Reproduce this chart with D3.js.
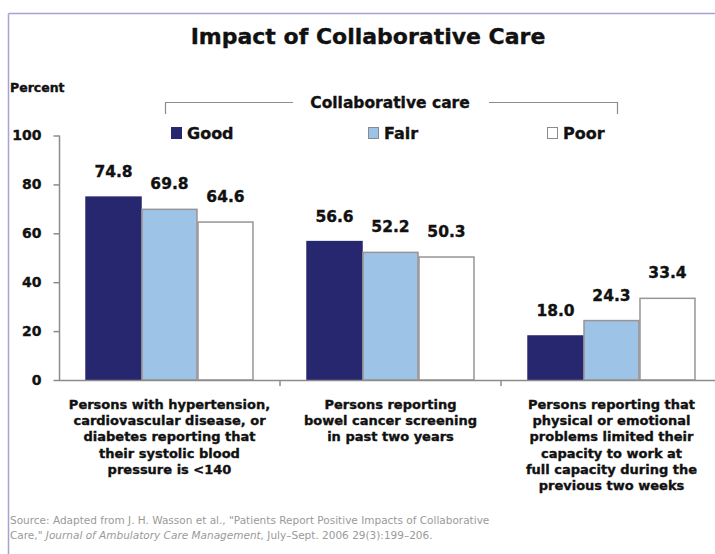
<!DOCTYPE html>
<html>
<head>
<meta charset="utf-8">
<script src="https://cdn.jsdelivr.net/npm/d3@7"></script>
<style>
  body { margin: 0; background: #fff; }
  svg text { font-family: "DejaVu Sans", sans-serif; }
  .heavy { font-weight: bold; stroke: #111; stroke-width: 0.35px; fill: #111; }
</style>
</head>
<body>
<svg id="chart"></svg>
<script>
const categories = [
	['Persons with hypertension,', 'cardiovascular disease, or', 'diabetes reporting that', 'their systolic blood', 'pressure is <140'],
	['Persons reporting', 'bowel cancer screening', 'in past two years'],
	['Persons reporting that', 'physical or emotional', 'problems limited their', 'capacity to work at', 'full capacity during the', 'previous two weeks']
];
const seriesNames = ['Good', 'Fair', 'Poor'];
const good = [74.8, 56.6, 18.0];
const fair = [69.8, 52.2, 24.3];
const poor = [64.6, 50.3, 33.4];
const yTicks = [0, 20, 40, 60, 80, 100];

const width = 715, height = 554;
const colors = { Good: '#27276f', Fair: '#9dc3e6', Poor: '#ffffff' };
const strokes = { Good: '#27276f', Fair: '#9a9494', Poor: '#9a9494' };

const svg = d3.select('#chart').attr('width', width).attr('height', height);

// frame lines
svg.append('line').attr('x1', 8.5).attr('y1', 13.5).attr('x2', width).attr('y2', 13.5)
	.attr('stroke', '#a3a3d6').attr('stroke-width', 1.5);
svg.append('line').attr('x1', 8.5).attr('y1', 13.5).attr('x2', 8.5).attr('y2', height)
	.attr('stroke', '#a3a3d6').attr('stroke-width', 1.5);

svg.append('text').attr('class', 'heavy')
	.attr('x', 368).attr('y', 44).attr('text-anchor', 'middle')
	.attr('font-size', 22).attr('stroke-width', 0.5).text('Impact of Collaborative Care');

svg.append('text').attr('class', 'heavy')
	.attr('x', 10).attr('y', 92).attr('font-size', 12.5).text('Percent');

const catIdx = d3.range(categories.length);
const x0 = d3.scaleBand().domain(catIdx).range([59, 722]).paddingInner(0.24).paddingOuter(0.12);
const x1 = d3.scaleBand().domain(seriesNames).range([0, x0.bandwidth()]);
const y = d3.scaleLinear().domain([0, 100]).range([380, 135.5]);

// y axis
const yAxis = svg.append('g').attr('transform', 'translate(59.5,0)')
	.call(d3.axisLeft(y).tickValues(yTicks).tickSize(6).tickPadding(12));
yAxis.select('.domain').attr('stroke', '#8c8c8c').attr('stroke-width', 1.5).attr('d', `M0,${y(100)}V${y(0)}`);
yAxis.selectAll('.tick line').attr('stroke', '#8c8c8c').attr('stroke-width', 1.5);
yAxis.selectAll('.tick text').attr('class', 'heavy').attr('font-size', 14).attr('font-family', 'DejaVu Sans');

// bars
const seriesData = { Good: good, Fair: fair, Poor: poor };
const groups = svg.append('g').selectAll('g').data(catIdx).join('g')
	.attr('transform', i => `translate(${x0(i)},0)`);
groups.selectAll('rect')
	.data(i => seriesNames.map(s => ({ s, v: seriesData[s][i] })))
	.join('rect')
	.attr('x', d => x1(d.s) + 0.5).attr('width', x1.bandwidth() - 1)
	.attr('y', d => y(d.v)).attr('height', d => y(0) - y(d.v))
	.attr('fill', d => colors[d.s]).attr('stroke', d => strokes[d.s]).attr('stroke-width', 1.5);
groups.selectAll('text.val')
	.data(i => seriesNames.map(s => ({ s, v: seriesData[s][i] })))
	.join('text').attr('class', 'val heavy')
	.attr('x', d => x1(d.s) + x1.bandwidth() / 2).attr('y', d => y(d.v) - 20)
	.attr('text-anchor', 'middle').attr('font-size', 15.5)
	.text(d => d3.format('.1f')(d.v));

// x axis
const xBounds = [1, 2].map(i => x0(i) - x0.step() * x0.paddingInner() / 2);
svg.append('line').attr('x1', 59).attr('x2', width).attr('y1', 380.5).attr('y2', 380.5)
	.attr('stroke', '#8c8c8c').attr('stroke-width', 1.5);
svg.append('g').selectAll('line').data(xBounds).join('line')
	.attr('x1', d => d).attr('x2', d => d).attr('y1', 380).attr('y2', 386)
	.attr('stroke', '#8c8c8c').attr('stroke-width', 1.5);

// category labels
svg.append('g').selectAll('text').data(catIdx).join('text')
	.attr('class', 'heavy').attr('font-size', 13).attr('text-anchor', 'middle')
	.attr('transform', i => `translate(${x0(i) + x0.bandwidth() / 2},409)`)
	.selectAll('tspan').data(i => categories[i]).join('tspan')
	.attr('x', 0).attr('dy', (d, j) => j === 0 ? 0 : 16.2).text(d => d);

// legend
const lg = svg.append('g');
lg.append('path').attr('d', 'M165.5,114V102.5H293M489,102.5H617.5V114')
	.attr('fill', 'none').attr('stroke', '#8c8c8c').attr('stroke-width', 1.2);
lg.append('text').attr('class', 'heavy').attr('x', 390).attr('y', 108)
	.attr('text-anchor', 'middle').attr('font-size', 15.5).text('Collaborative care');
const legendX = [171, 368, 547];
const items = lg.selectAll('g.item').data(seriesNames).join('g')
	.attr('transform', (d, i) => `translate(${legendX[i]},127)`);
items.append('rect').attr('x', 0.5).attr('y', 0.5).attr('width', 10).attr('height', 11)
	.attr('fill', d => colors[d]).attr('stroke', d => d === 'Good' ? colors[d] : '#8a8a8a');
items.append('text').attr('class', 'heavy').attr('x', 16).attr('y', 12)
	.attr('font-size', 16).text(d => d);

// source
const src = svg.append('g').attr('fill', '#9a9a9a').attr('font-size', 10.5)
	.attr('font-family', 'Liberation Sans');
src.append('text').attr('x', 10).attr('y', 524)
	.text('Source:  Adapted from J. H. Wasson et al., "Patients Report Positive Impacts of Collaborative');
const l2 = src.append('text').attr('x', 10).attr('y', 539);
l2.append('tspan').text('Care," ');
l2.append('tspan').attr('font-style', 'italic').text('Journal of Ambulatory Care Management,');
l2.append('tspan').text(' July–Sept. 2006 29(3):199–206.');
</script>
</body>
</html>
